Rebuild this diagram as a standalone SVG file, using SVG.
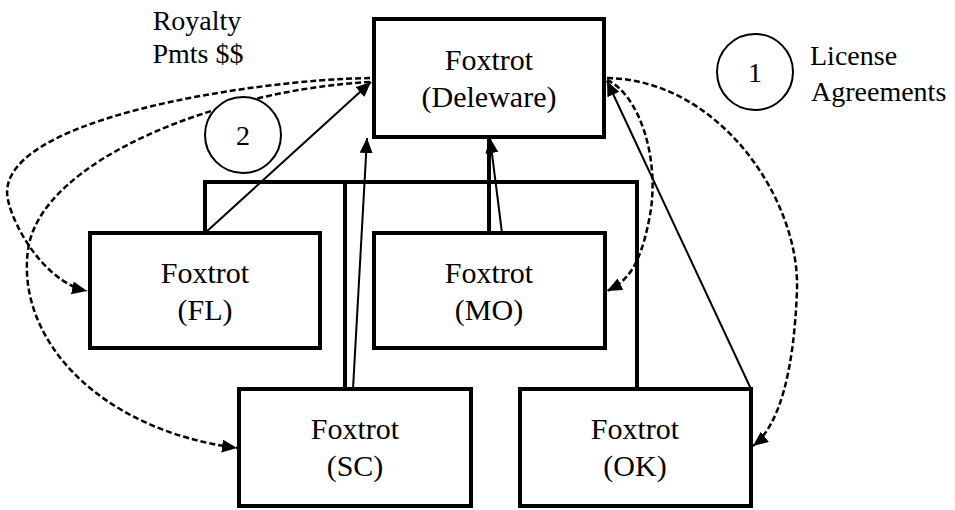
<svg xmlns="http://www.w3.org/2000/svg" width="955" height="510" viewBox="0 0 955 510">
<defs>
<style>
.box{fill:#fff;stroke:#000;stroke-width:4}
.t{font-family:'Liberation Serif','DejaVu Serif',serif;font-size:30px;fill:#000;text-anchor:middle}
.lbl{font-family:'Liberation Serif','DejaVu Serif',serif;font-size:28px;fill:#000}
.bar{fill:none;stroke:#000;stroke-width:4}
.sol{fill:none;stroke:#000;stroke-width:2}
.dash{fill:none;stroke:#000;stroke-width:2.5;stroke-dasharray:6 3}
.circ{fill:#fff;stroke:#000;stroke-width:2}
</style>
<marker id="ah" markerUnits="userSpaceOnUse" markerWidth="16" markerHeight="14" refX="15" refY="6.5" orient="auto">
<path d="M0,0 L15,6.5 L0,13 z" fill="#000"/>
</marker>
</defs>
<rect width="955" height="510" fill="#fff"/>

<g id="labels" font-family="Liberation Serif, serif">
<text class="lbl" x="197" y="30" text-anchor="middle">Royalty</text>
<text class="lbl" x="198" y="63" text-anchor="middle">Pmts $$</text>
<text class="lbl" x="810" y="65">License</text>
<text class="lbl" x="811" y="101">Agreements</text>
</g>

<g id="connectors">
<path class="bar" d="M205,233 V182 H637 V389"/>
<path class="bar" d="M345,182 V389"/>
<path class="bar" d="M489,137 V233"/>
<path class="sol" d="M205,233 L371,82" marker-end="url(#ah)"/>
<path class="sol" d="M353,389 L367,138" marker-end="url(#ah)"/>
<path class="sol" d="M502,233 L490,138" marker-end="url(#ah)"/>
<path class="sol" d="M751,389 L607,81" marker-end="url(#ah)"/>
<path class="dash" d="M370,78 C250,80 -10,120 8,200 C14,228 45,282 87,291" marker-end="url(#ah)"/>
<path class="dash" d="M370,82 C220,90 40,160 28,250 C16,340 100,430 237,448" marker-end="url(#ah)"/>
<path class="dash" d="M607,80 C640,95 660,160 650,215 C640,270 625,282 607,291" marker-end="url(#ah)"/>
<path class="dash" d="M607,78 C720,80 800,200 797,290 C794,370 780,425 753,446" marker-end="url(#ah)"/>
</g>

<g id="circle2" font-family="Liberation Serif, serif">
<circle class="circ" cx="243" cy="135" r="38"/>
<text class="lbl" x="243" y="145" text-anchor="middle">2</text>
</g>
<g id="circle1" font-family="Liberation Serif, serif">
<circle class="circ" cx="755" cy="72" r="38"/>
<text class="lbl" x="755" y="82" text-anchor="middle">1</text>
</g>

<g id="deleware" font-family="Liberation Serif, serif">
<rect class="box" x="374" y="19" width="230" height="118"/>
<text class="t" x="489" y="70">Foxtrot</text>
<text class="t" x="489" y="107">(Deleware)</text>
</g>
<g id="fl" font-family="Liberation Serif, serif">
<rect class="box" x="90" y="233" width="230" height="115"/>
<text class="t" x="205" y="283">Foxtrot</text>
<text class="t" x="205" y="320">(FL)</text>
</g>
<g id="mo" font-family="Liberation Serif, serif">
<rect class="box" x="374" y="233" width="231" height="115"/>
<text class="t" x="489" y="283">Foxtrot</text>
<text class="t" x="489" y="320">(MO)</text>
</g>
<g id="sc" font-family="Liberation Serif, serif">
<rect class="box" x="239" y="389" width="232" height="117"/>
<text class="t" x="355" y="439">Foxtrot</text>
<text class="t" x="355" y="476">(SC)</text>
</g>
<g id="ok" font-family="Liberation Serif, serif">
<rect class="box" x="520" y="389" width="231" height="117"/>
<text class="t" x="635" y="439">Foxtrot</text>
<text class="t" x="635" y="476">(OK)</text>
</g>
</svg>
